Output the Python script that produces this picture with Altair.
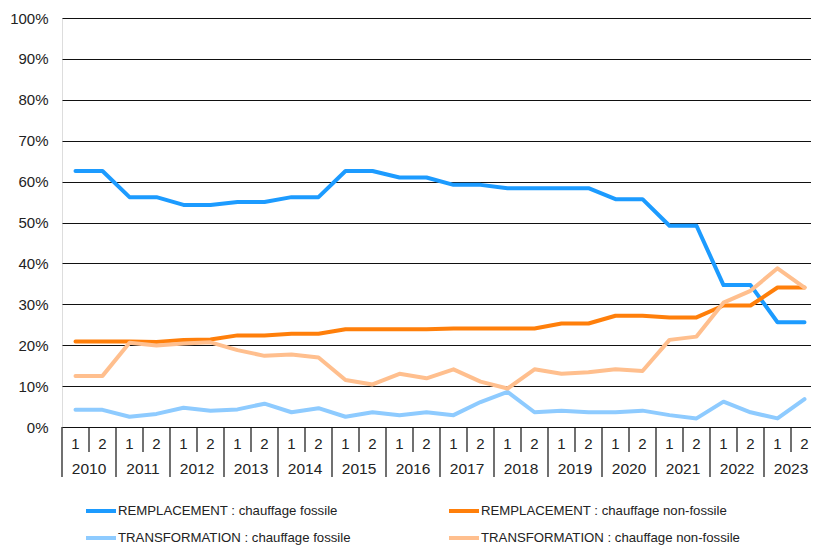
import altair as alt
import pandas as pd

years = [str(y) for y in range(2010, 2024)]
halves = ["1", "2"]
series = [
    "REMPLACEMENT : chauffage fossile",
    "REMPLACEMENT : chauffage non-fossile",
    "TRANSFORMATION : chauffage fossile",
    "TRANSFORMATION : chauffage non-fossile",
]
colors = ["#1c9bff", "#ff7f0a", "#8ecbff", "#ffbf8e"]

rempl_fossile = [62.6, 62.6, 56.2, 56.2, 54.3, 54.3, 55.0, 55.0, 56.2, 56.2, 62.6, 62.6, 61.0, 61.0,
                 59.2, 59.2, 58.4, 58.4, 58.4, 58.4, 55.7, 55.7, 49.2, 49.2, 34.7, 34.7, 25.6, 25.6]
rempl_nonfossile = [20.9, 20.9, 20.9, 20.8, 21.3, 21.4, 22.4, 22.4, 22.8, 22.8, 23.9, 23.9, 23.9, 23.9,
                    24.1, 24.1, 24.1, 24.1, 25.3, 25.3, 27.2, 27.2, 26.8, 26.8, 29.7, 29.7, 34.1, 34.1]
transf_fossile = [4.2, 4.2, 2.5, 3.2, 4.7, 4.0, 4.3, 5.7, 3.6, 4.6, 2.5, 3.6, 2.9, 3.6,
                  2.9, 6.1, 8.6, 3.6, 4.0, 3.6, 3.6, 4.0, 2.9, 2.1, 6.2, 3.6, 2.1, 6.8]
transf_nonfossile = [12.5, 12.5, 20.6, 19.9, 20.4, 20.7, 18.8, 17.4, 17.7, 17.0, 11.5, 10.4, 13.0, 11.9,
                     14.1, 11.1, 9.4, 14.1, 13.0, 13.4, 14.1, 13.7, 21.3, 22.1, 30.4, 33.3, 38.8, 34.1]

all_vals = [rempl_fossile, rempl_nonfossile, transf_fossile, transf_nonfossile]

rows = []
for name, vals in zip(series, all_vals):
    for i, v in enumerate(vals):
        rows.append({"idx": i, "series": name, "value": v / 100.0})
df = pd.DataFrame(rows)

cats = pd.DataFrame({
    "idx": list(range(len(years) * len(halves))),
    "year": [y for y in years for _ in halves],
    "half": halves * len(years),
})

FONT = "Liberation Sans, Arial, sans-serif"
W, H = 749, 409
STEP = 27.0
xscale = alt.Scale(domain=[-0.5, -0.5 + W / STEP], nice=False, zero=False)

lines = alt.Chart(df).mark_line(strokeWidth=4, strokeCap="round", strokeJoin="round").encode(
    x=alt.X("idx:Q", scale=xscale, axis=None),
    y=alt.Y(
        "value:Q",
        scale=alt.Scale(domain=[0, 1], nice=False),
        axis=alt.Axis(
            values=[i / 10 for i in range(11)], format=".0%", grid=True, gridColor="#111",
            gridWidth=1.2, domain=False, ticks=False, tickSize=0, labelPadding=14,
            labelFont=FONT, labelFontSize=15, labelColor="#222", title=None,
        ),
    ),
    color=alt.Color(
        "series:N",
        scale=alt.Scale(domain=series, range=colors),
        legend=alt.Legend(
            orient="none", legendX=22, legendY=476, columns=2, direction="horizontal",
            symbolType="stroke", symbolSize=900, symbolStrokeWidth=4, labelFont=FONT,
            labelFontSize=13.2, labelColor="#222", title=None, columnPadding=90,
            rowPadding=2, labelOffset=0, labelLimit=400, padding=0,
        ),
    ),
)

year_rules = alt.Chart(cats).transform_filter(
    "datum.idx % 2 == 1 || datum.idx == 0"
).transform_calculate(
    b="datum.idx % 2 == 1 ? datum.idx + 0.5 : datum.idx - 0.5"
).mark_rule(color="#111", strokeWidth=1.2).encode(
    x=alt.X("b:Q", scale=xscale, axis=None), y=alt.value(H), y2=alt.value(H + 50)
)

half_rules = alt.Chart(cats).transform_filter(
    "datum.idx % 2 == 0"
).transform_calculate(b="datum.idx + 0.5").mark_rule(color="#111", strokeWidth=1.2).encode(
    x=alt.X("b:Q", scale=xscale, axis=None), y=alt.value(H), y2=alt.value(H + 25)
)

half_labels = alt.Chart(cats).mark_text(
    font=FONT, fontSize=15, color="#222", baseline="middle", align="center"
).encode(x=alt.X("idx:Q", scale=xscale, axis=None), y=alt.value(H + 17), text="half:N")

year_labels = alt.Chart(cats).transform_aggregate(
    xm="mean(idx)", groupby=["year"]
).mark_text(font=FONT, fontSize=15.5, color="#222", baseline="middle", align="center").encode(
    x=alt.X("xm:Q", scale=xscale, axis=None), y=alt.value(H + 42), text="year:N"
)

chart = alt.layer(lines, year_rules, half_rules, half_labels, year_labels).properties(
    width=W, height=H,
    autosize=alt.AutoSizeParams(type="none"),
    padding={"left": 54, "top": 10, "right": 0, "bottom": 119},
).configure_view(stroke=None).configure(background="white")

chart.save("out.html", embed_options={"renderer": "svg", "actions": False})
